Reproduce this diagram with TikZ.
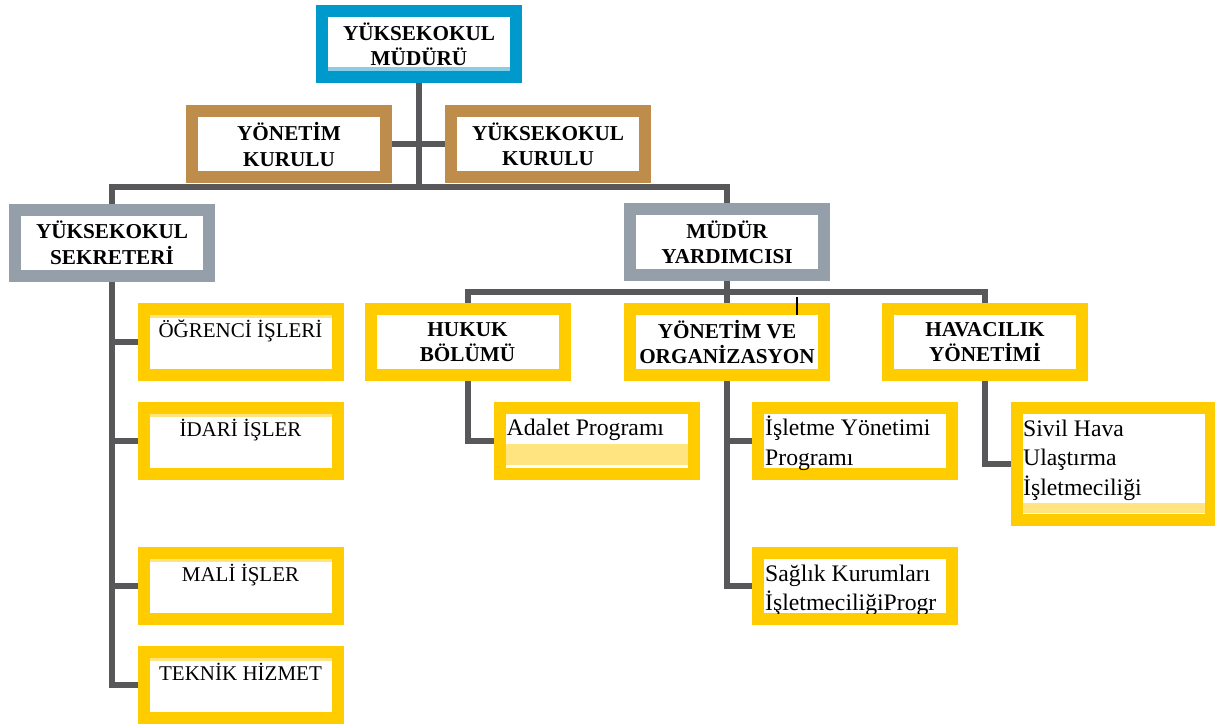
\documentclass[tikz,border=0pt]{standalone}
\usepackage{fontspec}
\setmainfont{Liberation Serif}
\usetikzlibrary{calc,backgrounds}

\definecolor{mavi}{RGB}{0,153,204}
\definecolor{acikmavi}{RGB}{140,205,230}
\definecolor{kahve}{RGB}{190,140,75}
\definecolor{gri}{RGB}{149,159,169}
\definecolor{sari}{RGB}{255,204,0}
\definecolor{aciksari}{RGB}{255,228,128}
\definecolor{hat}{RGB}{88,88,90}

\newcommand{\headfont}{\fontsize{21.2}{25.5}\selectfont\bfseries}
\newcommand{\unitfont}{\fontsize{21}{25}\selectfont}
\newcommand{\progfont}{\fontsize{23.7}{29.5}\selectfont}

\tikzset{
  orgbox/.style={rectangle, minimum width=194pt, minimum height=66pt,
    line width=12pt, fill=white, inner sep=2pt, align=center, font=\headfont},
  bluebox/.style={orgbox, draw=mavi},
  brownbox/.style={orgbox, draw=kahve},
  greybox/.style={orgbox, draw=gri},
  yellowbox/.style={orgbox, draw=sari},
  unittext/.style={font=\unitfont, anchor=base, inner sep=0pt},
  progtext/.style={font=\progfont, align=left, anchor=north west, inner sep=0pt},
  conn/.style={draw=hat, line width=6pt}
}

\begin{document}
\begin{tikzpicture}[x=1pt, y=-1pt]
    \useasboundingbox (0,0) rectangle (1215,727);
    % Top
    \node[bluebox] (mudur) at (419,44.5) {YÜKSEKOKUL\\MÜDÜRÜ};
    \fill[acikmavi] ($(mudur.south west)+(12,-12)$) rectangle ($(mudur.south east)+(-12,-16)$);
    % Boards
    \node[brownbox] (ykurul) at (289,144.5) {YÖNETİM\\KURULU};
    \node[brownbox] (yokurul) at (548,144.5) {YÜKSEKOKUL\\KURULU};
    % Second level
    \node[greybox] (sekreter) at (112,243) {YÜKSEKOKUL\\SEKRETERİ};
    \node[greybox] (yard) at (727,242.5) {MÜDÜR\\YARDIMCISI};
    % Secretary units
    \foreach \n/\y/\txt in {ogrenci/341.5/ÖĞRENCİ İŞLERİ, idari/440.5/İDARİ İŞLER,
        mali/585.5/MALİ İŞLER, teknik/684.5/TEKNİK HİZMET} {
      \node[yellowbox] (\n) at (240.5,\y) {};
      \fill[aciksari] ($(\n.north west)+(12,12)$) rectangle ($(\n.north east)+(-12,15)$);
      \node[unittext] (\n-t) at ($(\n.north)+(0,35)$) {\txt};
    }
    % Departments
    \node[yellowbox] (hukuk) at (467.5,342) {HUKUK\\BÖLÜMÜ};
    \node[yellowbox] (yonorg) at (727,342) {YÖNETİM VE\\ORGANİZASYON};
    \node[yellowbox] (havacilik) at (985,342) {HAVACILIK\\YÖNETİMİ};
    % Programmes
    \node[yellowbox] (adalet) at (596.5,441) {};
    \fill[aciksari] ($(adalet.south west)+(12,-15)$) rectangle ($(adalet.south east)+(-12,-36)$);
    \node[progtext] (adalet-t) at ($(adalet.north west)+(13,12.35)$) {\strut Adalet Programı};
    \node[yellowbox] (isletme) at (855,440.5) {};
    \node[progtext] (isletme-t) at ($(isletme.north west)+(13,13.35)$) {\strut İşletme Yönetimi\\Programı};
    \node[yellowbox] (saglik) at (855,586) {};
    \begin{scope}
      \clip ($(saglik.south west)+(12,-12)$) rectangle ($(saglik.north east)+(-12,12)$);
      \node[progtext] (saglik-t) at ($(saglik.north west)+(13,13.35)$) {\strut Sağlık Kurumları\\İşletmeciliğiProgr};
    \end{scope}
    \node[yellowbox, minimum height=112pt] (sivil) at (1114,464) {};
    \fill[aciksari] ($(sivil.south west)+(12,-13)$) rectangle ($(sivil.south east)+(-12,-23)$);
    \node[progtext] (sivil-t) at ($(sivil.north west)+(12,13.35)$) {\strut Sivil Hava\\Ulaştırma\\İşletmeciliği};
    % Tick
    \draw[black, line width=1.2pt] ($(yonorg.north east)+(-33,-6)$) -- ($(yonorg.north east)+(-33,12)$);
    % Connectors
    \begin{scope}[on background layer]
      \coordinate (topbus) at (419,187);
      \coordinate (midbus) at (727,292);
      \draw[conn] (mudur.south) -- (mudur.south |- topbus);
      \draw[conn] (ykurul.east) -- (yokurul.west);
      \draw[conn] (sekreter.north) |- (yard.north |- topbus) -- (yard.north);
      \foreach \n in {ogrenci,idari,mali,teknik}
        \draw[conn] (sekreter.south) |- (\n.west);
      \draw[conn] (yard.south) -- (yonorg.north);
      \draw[conn] (hukuk.north) |- (havacilik.north |- midbus) -- (havacilik.north);
      \draw[conn] (hukuk.south) |- (adalet.west);
      \draw[conn] (yonorg.south) |- (isletme.west);
      \draw[conn] (yonorg.south) |- (saglik.west);
      \draw[conn] (havacilik.south) |- (sivil.west);
    \end{scope}
\end{tikzpicture}
\end{document}
